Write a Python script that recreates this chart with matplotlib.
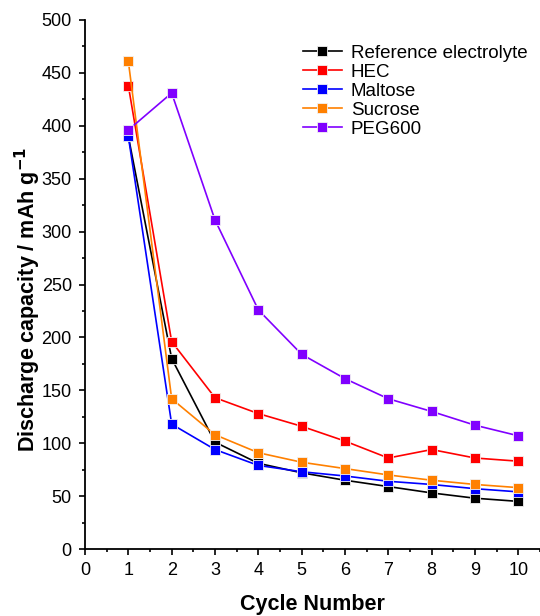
import matplotlib
matplotlib.use("Agg")
import matplotlib.pyplot as plt
from matplotlib.ticker import MultipleLocator

plt.rcParams["font.family"] = ["Liberation Sans", "DejaVu Sans"]

cycles = [1, 2, 3, 4, 5, 6, 7, 8, 9, 10]

reference = [390, 180, 101, 81, 72, 65, 59, 53, 48, 45]
hec = [438, 196, 143, 128, 116, 102, 86, 94, 86, 83]
maltose = [390, 118, 94, 79, 73, 69, 64, 61, 57, 54]
sucrose = [461, 142, 108, 91, 82, 76, 70, 65, 61, 58]
peg600 = [396, 431, 311, 226, 184, 161, 142, 130, 117, 107]

series = [
    ("Reference electrolyte", reference, "#000000"),
    ("HEC", hec, "#FF0000"),
    ("Maltose", maltose, "#0000FF"),
    ("Sucrose", sucrose, "#FF8000"),
    ("PEG600", peg600, "#8000FF"),
]

W, H = 540, 616
fig = plt.figure(figsize=(W / 100, H / 100), dpi=100)
# axes: x=0 at 85 px, y=0 at 549 px, y=500 at 20 px
ax = fig.add_axes([85 / W, (H - 549) / H, 455 / W, 529 / H])

for label, vals, col in series:
    ax.plot(cycles, vals, color=col, lw=1.2, marker="s", markersize=7,
            markerfacecolor=col, markeredgecolor="#f2f2f2",
            markeredgewidth=0.6, label=label)

ax.set_xlim(0, 10.5)
ax.set_ylim(0, 500)
ax.xaxis.set_major_locator(MultipleLocator(1))
ax.xaxis.set_minor_locator(MultipleLocator(0.5))
ax.yaxis.set_major_locator(MultipleLocator(50))
ax.yaxis.set_minor_locator(MultipleLocator(25))

for side in ("top", "right"):
    ax.spines[side].set_visible(False)
for side in ("left", "bottom"):
    ax.spines[side].set_linewidth(1.3)

ax.tick_params(which="major", direction="out", length=4.5, width=1.2,
               labelsize=13, pad=5)
ax.tick_params(which="minor", direction="out", length=2.5, width=1.2)

ax.set_ylabel("Discharge capacity / mAh g$^{\\mathbf{-1}}$", fontsize=15.5,
              fontweight="bold")
ax.yaxis.set_label_coords(-42 / 455, (549 - 300) / 529)

fig.text(312 / W, 6 / H, "Cycle Number", fontsize=15.5, fontweight="bold",
         ha="center", va="baseline")

ax.legend(loc="upper left", bbox_to_anchor=(295 / W, (H - 37) / H),
          bbox_transform=fig.transFigure, frameon=False,
          fontsize=13.5, handlelength=2.1, handletextpad=0.47,
          labelspacing=0.1, borderaxespad=0)

fig.savefig("out.png", dpi=100, facecolor="white")
